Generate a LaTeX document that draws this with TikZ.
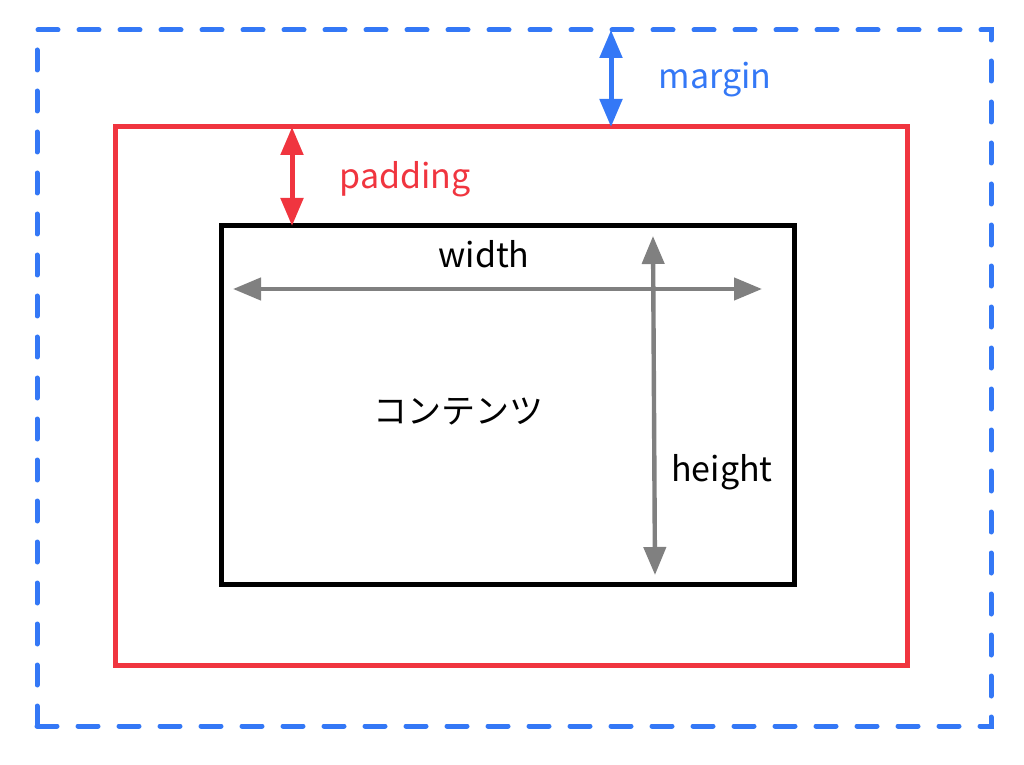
\documentclass[tikz,border=0pt]{standalone}
\usepackage{fontspec}
\setmainfont{Noto Sans CJK JP}
\usetikzlibrary{arrows.meta}
\definecolor{mblue}{HTML}{3478F6}
\definecolor{pred}{HTML}{F0353F}
\definecolor{cgray}{HTML}{808080}

\begin{document}
\begin{tikzpicture}[x=0.5pt,y=-0.5pt]

\tikzset{box/.style = {shape=rectangle,inner sep=0pt,outer sep=0pt}}
\tikzset{dim/.style = {{Triangle[length=14pt,width=11pt]}-{Triangle[length=14pt,width=11pt]}}}
\tikzset{lbl/.style = {font=\fontsize{17}{20}\selectfont,inner sep=0pt}}
\useasboundingbox (0,0) rectangle (1024,765);

% boxes
\node[box,draw=mblue,line width=2.5pt,line cap=round,dash pattern=on 10pt off 10.5pt,
  minimum width=477pt,minimum height=348pt] (outer) at (514,378) {};
\node[box,draw=pred,line width=2.5pt,minimum width=396pt,minimum height=269pt] (pad) at (511,396) {};
\node[box,draw=black,line width=2.5pt,minimum width=286.5pt,minimum height=179pt] (content) at (507.5,405) {};

% points for the arrows
\coordinate (mx) at (611,0);
\coordinate (px) at (292,0);
\coordinate (wl) at (233,289);
\coordinate (wr) at (762,289);
\coordinate (ht) at (653,236);
\coordinate (hb) at (655,575);

% labels
\node[lbl,text=mblue] (mlabel) at (715,80) {margin};
\node[lbl,text=pred] (plabel) at (405,179) {padding};
\node[lbl] (wlabel) at (484,254) {width};
\node[lbl] (hlabel) at (722,472) {height};
\node[lbl] (text) at (458,412) {コンテンツ};

% arrows
\draw[dim,mblue,line width=2.5pt] (outer.north -| mx) to (pad.north -| mx);
\draw[dim,pred,line width=2.5pt] (pad.north -| px) to (content.north -| px);
\draw[dim,cgray,line width=2.2pt] (wl) to (wr);
\draw[dim,cgray,line width=2.2pt] (ht) to (hb);

\end{tikzpicture}
\end{document}
